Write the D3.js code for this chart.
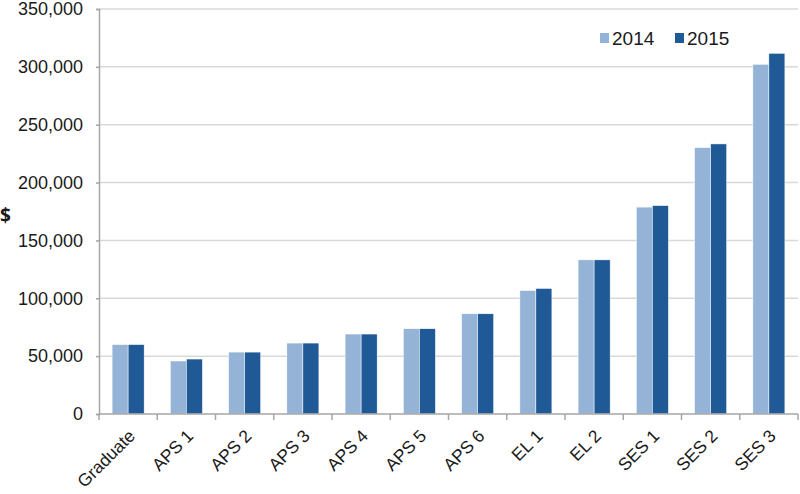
<!DOCTYPE html>
<html>
<head>
<meta charset="utf-8">
<script src="https://cdn.jsdelivr.net/npm/d3@7"></script>
<style>
  body { margin: 0; background: #fff; }
  text { font-family: "Liberation Sans", Arial, sans-serif; fill: #1a1a1a; }
</style>
</head>
<body>
<svg id="chart" width="800" height="494"></svg>
<script>
/* global d3 */

var categories = ['Graduate', 'APS 1', 'APS 2', 'APS 3', 'APS 4', 'APS 5', 'APS 6', 'EL 1', 'EL 2', 'SES 1', 'SES 2', 'SES 3'];
var years = ['2014', '2015'];
var values2014 = [60000, 45800, 53500, 61300, 69100, 73700, 86600, 106700, 133200, 178800, 230200, 302200];
var values2015 = [60000, 47500, 53500, 61300, 69100, 73700, 86600, 108500, 133200, 180100, 233400, 311700];
var yTicks = [0, 50000, 100000, 150000, 200000, 250000, 300000, 350000];
var colors = ['#95b3d7', '#1f5a96'];

var margin = { top: 9, right: 2, bottom: 80, left: 99 };
var width = 800 - margin.left - margin.right;
var height = 494 - margin.top - margin.bottom;

var svg = d3.select('#chart');
var g = svg.append('g').attr('transform', `translate(${margin.left},${margin.top})`);

var x = d3.scaleBand().domain(categories).range([0, width]).paddingInner(0.45).paddingOuter(0.225);
var x1 = d3.scaleBand().domain(years).range([0, x.bandwidth()]);
var y = d3.scaleLinear().domain([0, 350000]).range([height, 0]);

// gridlines
g.append('g').selectAll('line')
  .data(yTicks.slice(1)).enter()
  .append('line')
  .attr('x1', 0).attr('x2', width)
  .attr('y1', d => y(d)).attr('y2', d => y(d))
  .attr('stroke', '#d9d9d9').attr('stroke-width', 1.5);

// bars
var rows = categories.map((c, i) => ({ cat: c, vals: [values2014[i], values2015[i]] }));
var groups = g.selectAll('g.bar-group')
  .data(rows).enter()
  .append('g').attr('class', 'bar-group')
  .attr('transform', d => `translate(${x(d.cat)},0)`);

groups.selectAll('rect')
  .data(d => d.vals.map((v, k) => ({ year: years[k], v: v, k: k }))).enter()
  .append('rect')
  .attr('x', d => x1(d.year))
  .attr('width', x1.bandwidth())
  .attr('y', d => y(d.v))
  .attr('height', d => y(0) - y(d.v))
  .attr('fill', d => colors[d.k])
  .attr('stroke', '#fff').attr('stroke-width', 0.5);

// y axis
var yAxis = g.append('g')
  .call(d3.axisLeft(y).tickValues(yTicks).tickSize(3).tickPadding(13).tickFormat(d3.format(',')));
yAxis.select('.domain').attr('stroke', '#a6a6a6').attr('stroke-width', 1.5);
yAxis.selectAll('.tick line').attr('stroke', '#a6a6a6').attr('stroke-width', 1.5);
yAxis.selectAll('.tick text').style('font-size', '18px').attr('fill', '#1a1a1a')
  .style('font-family', '"Liberation Sans", Arial, sans-serif');

// x axis with ticks at band edges
var xAxis = g.append('g').attr('transform', `translate(0,${height})`);
xAxis.append('line')
  .attr('x1', 0).attr('x2', width).attr('y1', 0).attr('y2', 0)
  .attr('stroke', '#a6a6a6').attr('stroke-width', 1.5);
var step = x.step();
xAxis.selectAll('line.tick')
  .data(d3.range(categories.length + 1)).enter()
  .append('line').attr('class', 'tick')
  .attr('x1', d => d * step).attr('x2', d => d * step)
  .attr('y1', 0).attr('y2', 6)
  .attr('stroke', '#a6a6a6').attr('stroke-width', 1.5);

xAxis.selectAll('text.cat')
  .data(categories).enter()
  .append('text').attr('class', 'cat')
  .attr('text-anchor', 'end')
  .attr('transform', d => `translate(${x(d) + x.bandwidth() / 2 + 8},${23}) rotate(-45)`)
  .style('font-size', '17.5px')
  .text(d => d);

// y label
svg.append('text')
  .attr('x', 0).attr('y', 222)
  .style('font-size', '19px').style('font-weight', 'bold')
  .style('font-family', '"Open Sans", "DejaVu Sans", sans-serif')
  .text('$');

// legend
var legend = svg.append('g').attr('transform', 'translate(600,33)');
var items = legend.selectAll('g')
  .data(years).enter()
  .append('g')
  .attr('transform', (d, i) => `translate(${i * 75},0)`);
items.append('rect')
  .attr('width', 9).attr('height', 10)
  .attr('fill', (d, i) => colors[i]);
items.append('text')
  .attr('x', 12).attr('y', 12)
  .style('font-size', '19px')
  .text(d => d);
</script>
</body>
</html>
